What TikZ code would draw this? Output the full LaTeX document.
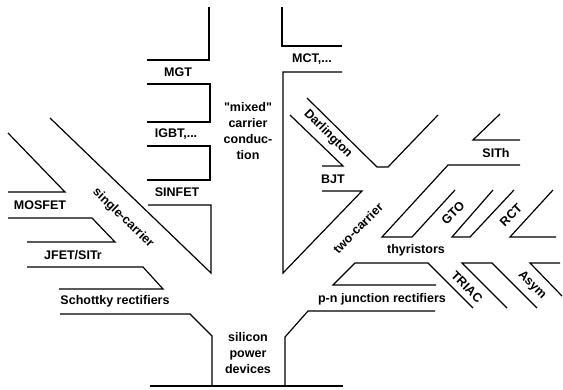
\documentclass[tikz,border=0pt]{standalone}
\usepackage{fontspec}
\setmainfont{Liberation Sans}
\usetikzlibrary{positioning}

\begin{document}
\begin{tikzpicture}[
    x=1pt, y=-1pt,
    branch/.style={line width=1.2pt, line join=miter},
    devname/.style={font=\fontsize{12.5}{16}\selectfont\bfseries, inner sep=0pt, align=center}
]
\useasboundingbox (0,0) rectangle (563,389);

% trunk and single-carrier side
\draw[branch] (150,386) -- (343,386);
\draw[branch] (212,386) -- (212,336) -- (190,314) -- (60,314);
\draw[branch] (59,289) -- (163,289) -- (143,267) -- (27,267);
\draw[branch] (27,242) -- (115,242) -- (92,218) -- (8,218);
\draw[branch] (8,192) -- (65,192) -- (8,133);
\draw[branch] (50,118) -- (211,273) -- (211,205) -- (148,205);
\draw[branch] (147,180) -- (210,180) -- (210,146) -- (147,146);
\draw[branch] (147,122) -- (210,122) -- (210,84) -- (147,84);
\draw[branch] (147,60) -- (209,60) -- (209,7);

% two-carrier side
\draw[branch] (282,7) -- (282,46) -- (342,46);
\draw[branch] (342,72) -- (283,72) -- (283,273) -- (362,191) -- (322,191);
\draw[branch] (322,166) -- (343,166) -- (290,115);
\draw[branch] (307,98) -- (377,167) -- (388,167) -- (438,115);
\draw[branch] (500,114) -- (473,140) -- (520,140);
\draw[branch] (520,165) -- (448,165) -- (382,237) -- (412,237) -- (455,190);
\draw[branch] (493,190) -- (452,237) -- (470,237) -- (514,190);
\draw[branch] (553,190) -- (510,237) -- (556,237);
\draw[branch] (436,285) -- (333,285) -- (355,263) -- (428,263) -- (473,308);
\draw[branch] (507,308) -- (462,263) -- (492,263) -- (537,308);
\draw[branch] (562,296) -- (530,263) -- (560,263);
\draw[branch] (435,311) -- (308,311) -- (285,337) -- (285,386);

\node[devname] (root) at (248,353) {silicon\\power\\devices};
\node[devname] (schottky) at (115,301) {Schottky rectifiers};
\node[devname] (jfet) at (73,255) {JFET/SITr};
\node[devname] (mosfet) at (40,205) {MOSFET};
\node[devname, rotate=-44] (single) at (123,218) {single-carrier};
\node[devname] (sinfet) at (177,192) {SINFET};
\node[devname] (igbt) at (176,134) {IGBT,...};
\node[devname] (mgt) at (178,72) {MGT};
\node[devname] (mixed) at (248,131) {\textquotedbl mixed\textquotedbl\\carrier\\conduc-\\tion};
\node[devname] (mct) at (312,59) {MCT,...};
\node[devname, rotate=-45] (darl) at (328,134) {Darlington};
\node[devname] (bjt) at (333,179) {BJT};
\node[devname, rotate=45] (two) at (358,228) {two-carrier};
\node[devname] (sith) at (496,153) {SITh};
\node[devname, rotate=45] (gto) at (453,213) {GTO};
\node[devname, rotate=45] (rct) at (511,215) {RCT};
\node[devname] (thyr) at (416,250) {thyristors};
\node[devname, rotate=-45] (triac) at (467,287) {TRIAC};
\node[devname, rotate=-45] (asym) at (532,285) {Asym};
\node[devname] (pn) at (382,299) {p-n junction rectifiers};

\end{tikzpicture}
\end{document}
